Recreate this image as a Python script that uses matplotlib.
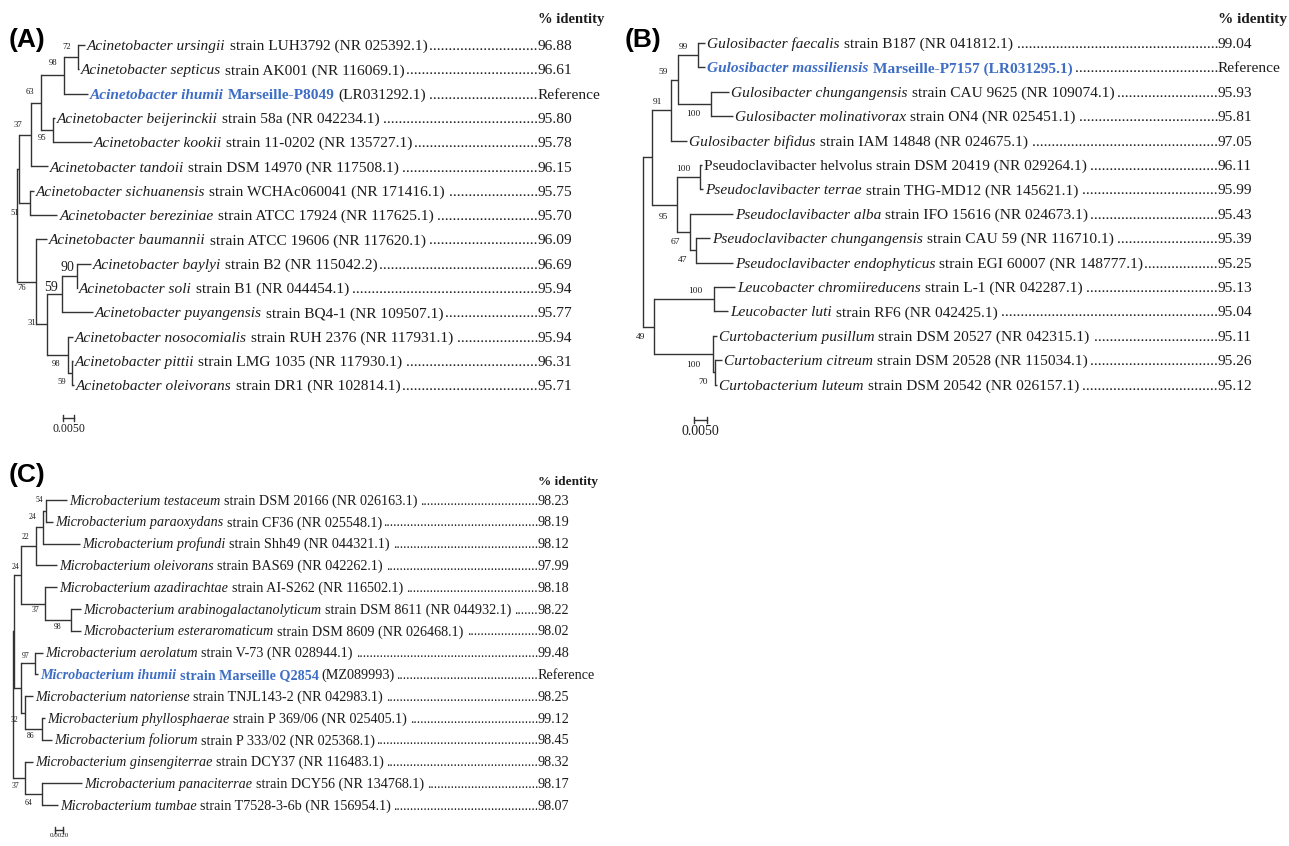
import matplotlib
matplotlib.use("Agg")
import matplotlib.pyplot as plt

# ---------------------------------------------------------------- data
A_species = ["Acinetobacter ursingii", "Acinetobacter septicus", "Acinetobacter ihumii",
             "Acinetobacter beijerinckii", "Acinetobacter kookii", "Acinetobacter tandoii",
             "Acinetobacter sichuanensis", "Acinetobacter bereziniae", "Acinetobacter baumannii",
             "Acinetobacter baylyi", "Acinetobacter soli", "Acinetobacter puyangensis",
             "Acinetobacter nosocomialis", "Acinetobacter pittii", "Acinetobacter oleivorans"]
A_strain = ["strain LUH3792 (NR 025392.1)", "strain AK001 (NR 116069.1)", "(LR031292.1)",
            "strain 58a (NR 042234.1)", "strain 11-0202 (NR 135727.1)", "strain DSM 14970 (NR 117508.1)",
            "strain WCHAc060041 (NR 171416.1)", "strain ATCC 17924 (NR 117625.1)",
            "strain ATCC 19606 (NR 117620.1)", "strain B2 (NR 115042.2)", "strain B1 (NR 044454.1)",
            "strain BQ4-1 (NR 109507.1)", "strain RUH 2376 (NR 117931.1)",
            "strain LMG 1035 (NR 117930.1)", "strain DR1 (NR 102814.1)"]
A_identity = [96.88, 96.61, None, 95.80, 95.78, 96.15, 95.75, 95.70, 96.09, 96.69, 95.94,
              95.77, 95.94, 96.31, 95.71]
A_ref_row, A_ref_tag = 2, "Marseille-P8049"
A_scale = 0.0050
# tree: internal = (bootstrap, branch length, children); leaf = (row, branch length)
A_tree = ("", 0.0, [
    ("", 0.0009, [
        ("37", 0.0055, [
            ("63", 0.0045, [
                ("98", 0.0105, [
                    ("72", 0.0064, [(0, 0.0032), (1, 0.0002)]),
                    (2, 0.0109)]),
                ("95", 0.0055, [(3, 0.0009), (4, 0.0177)])]),
            (5, 0.0077)]),
        ("51", 0.0050, [(6, 0.0016), (7, 0.0125)])]),
    ("76", 0.0086, [
        (8, 0.0050),
        ("31", 0.0050, [
            ("59", 0.0068, [
                ("90", 0.0068, [(9, 0.0064), (10, 0.0002)]),
                (11, 0.0141)]),
            ("98", 0.0095, [
                (12, 0.0023),
                ("59", 0.0018, [(13, 0.0005), (14, 0.0009)])])])])])

B_species = ["Gulosibacter faecalis", "Gulosibacter massiliensis", "Gulosibacter chungangensis",
             "Gulosibacter molinativorax", "Gulosibacter bifidus", "Pseudoclavibacter helvolus",
             "Pseudoclavibacter terrae", "Pseudoclavibacter alba", "Pseudoclavibacter chungangensis",
             "Pseudoclavibacter endophyticus", "Leucobacter chromiireducens", "Leucobacter luti",
             "Curtobacterium pusillum", "Curtobacterium citreum", "Curtobacterium luteum"]
B_strain = ["strain B187 (NR 041812.1)", "", "strain CAU 9625 (NR 109074.1)",
            "strain ON4 (NR 025451.1)", "strain IAM 14848 (NR 024675.1)",
            "strain DSM 20419 (NR 029264.1)", "strain THG-MD12 (NR 145621.1)",
            "strain IFO 15616 (NR 024673.1)", "strain CAU 59 (NR 116710.1)",
            "strain EGI 60007 (NR 148777.1)", "strain L-1 (NR 042287.1)", "strain RF6 (NR 042425.1)",
            "strain DSM 20527 (NR 042315.1)", "strain DSM 20528 (NR 115034.1)",
            "strain DSM 20542 (NR 026157.1)"]
B_identity = [99.04, None, 95.93, 95.81, 97.05, 96.11, 95.99, 95.43, 95.39, 95.25, 95.13,
              95.04, 95.11, 95.26, 95.12]
B_ref_row, B_ref_tag = 1, "Marseille-P7157 (LR031295.1)"
B_upright_rows = [5]
B_scale = 0.0050
B_tree = ("", 0.0, [
    ("", 0.0035, [
        ("91", 0.0073, [
            ("59", 0.0027, [
                ("99", 0.0077, [(0, 0.0027), (1, 0.0027)]),
                ("100", 0.0127, [(2, 0.0069), (3, 0.0085)])]),
            (4, 0.0062)]),
        ("95", 0.0096, [
            ("100", 0.0088, [(5, 0.0008), (6, 0.0012)]),
            ("67", 0.0050, [
                (7, 0.0165),
                ("47", 0.0023, [(8, 0.0054), (9, 0.0142)])])])]),
    ("49", 0.0042, [
        ("100", 0.0231, [(10, 0.0081), (11, 0.0054)]),
        ("100", 0.0227, [(12, 0.0015), ("70", 0.0008, [(13, 0.0027), (14, 0.0008)])])])])

C_species = ["Microbacterium testaceum", "Microbacterium paraoxydans", "Microbacterium profundi",
             "Microbacterium oleivorans", "Microbacterium azadirachtae",
             "Microbacterium arabinogalactanolyticum", "Microbacterium esteraromaticum",
             "Microbacterium aerolatum", "Microbacterium ihumii", "Microbacterium natoriense",
             "Microbacterium phyllosphaerae", "Microbacterium foliorum",
             "Microbacterium ginsengiterrae", "Microbacterium panaciterrae", "Microbacterium tumbae"]
C_strain = ["strain DSM 20166 (NR 026163.1)", "strain CF36 (NR 025548.1)",
            "strain Shh49 (NR 044321.1)", "strain BAS69 (NR 042262.1)",
            "strain AI-S262 (NR 116502.1)", "strain DSM 8611 (NR 044932.1)",
            "strain DSM 8609 (NR 026468.1)", "strain V-73 (NR 028944.1)", "(MZ089993)",
            "strain TNJL143-2 (NR 042983.1)", "strain P 369/06 (NR 025405.1)",
            "strain P 333/02 (NR 025368.1)", "strain DCY37 (NR 116483.1)",
            "strain DCY56 (NR 134768.1)", "strain T7528-3-6b (NR 156954.1)"]
C_identity = [98.23, 98.19, 98.12, 97.99, 98.18, 98.22, 98.02, 99.48, None, 98.25, 99.12,
              98.45, 98.32, 98.17, 98.07]
C_ref_row, C_ref_tag = 8, "strain Marseille Q2854"
C_scale = 0.0020
C_tree = ("", 0.0, [
    ("", 0.00025, [
        ("24", 0.00175, [
            ("22", 0.00375, [
                ("24", 0.00175, [
                    ("54", 0.00075, [(0, 0.00525), (1, 0.00175)]),
                    (2, 0.00925)]),
                (3, 0.00525)]),
            ("37", 0.006, [
                (4, 0.003),
                ("98", 0.0065, [(5, 0.0025), (6, 0.0025)])])]),
        ("", 0.00175, [
            ("97", 0.0035, [(7, 0.002), (8, 0.00075)]),
            ("32", 0.001, [(9, 0.002), ("86", 0.00425, [(10, 0.00075), (11, 0.0025)])])])]),
    ("37", 0.003, [(12, 0.002), ("64", 0.00425, [(13, 0.01), (14, 0.004)])])])

# ---------------------------------------------------------------- style / layout
W, H = 1289, 846
SERIF = "Liberation Serif"
SANS = "Liberation Sans"
BLUE = "#3d6dc4"
INK = "#1c1c1c"
LINE = "#333333"

fig = plt.figure(figsize=(W / 100, H / 100), dpi=100)
ax = fig.add_axes([0, 0, 1, 1])
ax.set_xlim(0, W)
ax.set_ylim(H, 0)
ax.axis("off")
renderer = fig.canvas.get_renderer()
inv = ax.transData.inverted()


def text_right(t):
    bb = t.get_window_extent(renderer)
    return inv.transform((bb.x1, bb.y0))[0]


def layout(node, x, y0, dy, ppu):
    if isinstance(node[0], int):
        row, ln = node
        return {"row": row, "x": x + ln * ppu, "y": y0 + row * dy}
    lab, ln, kids = node
    xx = x + ln * ppu
    ch = [layout(k, xx, y0, dy, ppu) for k in kids]
    return {"label": lab, "x": xx, "y": (ch[0]["y"] + ch[-1]["y"]) / 2, "kids": ch}


def draw_tree(n, labs, lw=1.0):
    if "kids" not in n:
        return
    ax.plot([n["x"], n["x"]], [n["kids"][0]["y"], n["kids"][-1]["y"]], color=LINE, lw=lw,
            solid_capstyle="projecting")
    if n["label"]:
        labs.append(n)
    for c in n["kids"]:
        ax.plot([n["x"], c["x"]], [c["y"], c["y"]], color=LINE, lw=lw, solid_capstyle="butt")
        draw_tree(c, labs, lw)


def leaves(n, out):
    if "kids" not in n:
        out.append(n)
    else:
        for c in n["kids"]:
            leaves(c, out)
    return out


def panel(tree, species, strain, identity, ref_row, ref_tag, upright, scale, cfg):
    root = layout(tree, cfg["root_x"], cfg["y0"], cfg["dy"], cfg["ppu"])
    labs = []
    draw_tree(root, labs, cfg["lw"])
    for i, n in enumerate(labs):
        dx, ddy = cfg["lab_off"][i]
        fs = cfg["big_fs"] if i in cfg["big"] else cfg["lab_fs"]
        ax.text(n["x"] + dx, n["y"] + ddy, n["label"], ha="right", va="center",
                fontsize=fs, family=SERIF, color=INK)
    fs = cfg["fs"]
    fpx = fs * 100 / 72
    dot = ax.text(0, 0, "." * 20, fontsize=fs, family=SERIF)
    dw = dot.get_window_extent(renderer).width / 20
    dot.remove()
    for lf in leaves(root, []):
        r = lf["row"]
        yb = lf["y"] + 0.33 * fpx
        x = lf["x"] + 2.0
        if r == ref_row:
            segs = [(species[r], "italic", "bold", BLUE), (ref_tag, "normal", "bold", BLUE)]
        elif r in upright:
            segs = [(species[r], "normal", "normal", INK)]
        else:
            segs = [(species[r], "italic", "normal", INK)]
        if strain[r]:
            segs.append((strain[r], "normal", "normal", INK))
        for s, st, wt, col in segs:
            t = ax.text(x, yb, s, fontsize=fs, family=SERIF, style=st, weight=wt, color=col,
                        ha="left", va="baseline")
            gap = (0.26 if st == "italic" else 0.22) * fpx
            x = text_right(t) + gap
        x -= gap - 0.5
        vx = cfg["val_x"]
        nd = max(0, int((vx - x) / dw))
        ax.text(vx - nd * dw, yb, "." * nd, fontsize=fs, family=SERIF, color=INK,
                ha="left", va="baseline")
        v = "Reference" if identity[r] is None else f"{identity[r]:.2f}"
        ax.text(vx, yb, v, fontsize=fs, family=SERIF, color=INK, ha="left", va="baseline")
    # header
    ax.text(cfg["val_x"], cfg["head_y"], "% identity", fontsize=cfg["head_fs"], family=SERIF,
            weight="bold", color=INK, ha="left", va="center")
    ax.text(cfg["tag_xy"][0], cfg["tag_xy"][1], cfg["tag"], fontsize=19, family=SANS,
            weight="bold", color="black", ha="left", va="center")
    # scale bar
    sx, sy = cfg["bar_xy"]
    L = scale * cfg["ppu"]
    ax.plot([sx, sx + L], [sy, sy], color=LINE, lw=1.0)
    ax.plot([sx, sx], [sy - 3, sy + 3], color=LINE, lw=1.0)
    ax.plot([sx + L, sx + L], [sy - 3, sy + 3], color=LINE, lw=1.0)
    ax.text(sx + L / 2, sy + cfg["bar_gap"], f"{scale:.4f}", fontsize=cfg["bar_fs"],
            family=SERIF, color=INK, ha="center", va="top")


cfgA = dict(root_x=17, y0=45, dy=24.3, ppu=11 / 0.005, lw=1.0, fs=11.1, lab_fs=6.2, big_fs=10,
            big={8, 9}, val_x=538, head_y=20, head_fs=10.5, tag="(A)", tag_xy=(9, 40),
            bar_xy=(63, 418), bar_fs=8.5, bar_gap=5,
            lab_off=[(-9, -10), (-7, -11), (-7, -12), (-7, -10), (-7, 8), (-11, 10), (-10, 6),
                     (-11, -1), (-4, -7), (-2, -8), (-7, 9), (-6, 9)])
cfgB = dict(root_x=643, y0=43, dy=24.4, ppu=13 / 0.005, lw=1.0, fs=11.1, lab_fs=6.8, big_fs=6.8,
            big=set(), val_x=1218, head_y=20, head_fs=11, tag="(B)", tag_xy=(625, 40),
            bar_xy=(694, 420), bar_fs=10, bar_gap=5,
            lab_off=[(-9, -8), (-10, -8), (-10, -8), (-11, 10), (-9, 12), (-10, -8), (-10, 10),
                     (-9, 10), (-9, 10), (-12, -8), (-13, 11), (-7, 10)])
cfgC = dict(root_x=13, y0=500, dy=21.8, ppu=8 / 0.002, lw=1.0, fs=10.2, lab_fs=5.5, big_fs=5.5,
            big=set(), val_x=538, head_y=482, head_fs=9.5, tag="(C)", tag_xy=(9, 475),
            bar_xy=(55, 830), bar_fs=5, bar_gap=3,
            lab_off=[(-2, -8), (-7, -9), (-7, -10), (-3, -11), (-6, 6), (-10, 7), (-6, -8),
                     (-7, 7), (-8, 7), (-6, 8), (-10, 9)])

panel(A_tree, A_species, A_strain, A_identity, A_ref_row, A_ref_tag, [], A_scale, cfgA)
panel(B_tree, B_species, B_strain, B_identity, B_ref_row, B_ref_tag, B_upright_rows, B_scale, cfgB)
panel(C_tree, C_species, C_strain, C_identity, C_ref_row, C_ref_tag, [], C_scale, cfgC)

fig.savefig("out.png", dpi=100, facecolor="white")
